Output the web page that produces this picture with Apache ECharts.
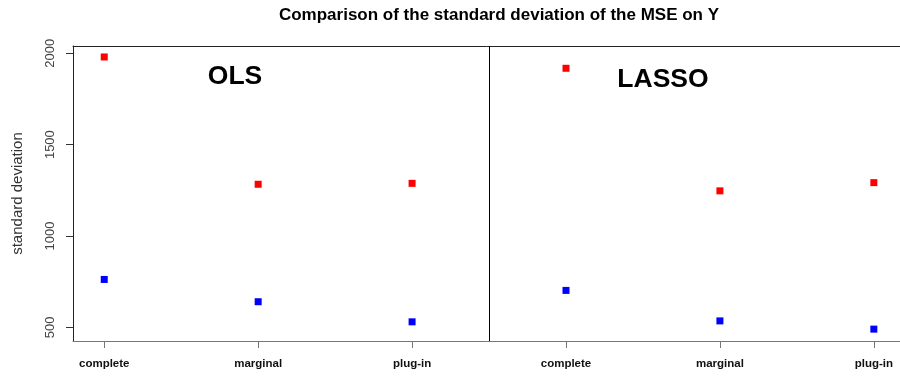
<!DOCTYPE html>
<html>
<head>
<meta charset="utf-8">
<script src="https://cdn.jsdelivr.net/npm/echarts@6/dist/echarts.min.js"></script>
<style>html,body{margin:0;padding:0;background:#fff;}#c{width:900px;height:377px;}</style>
</head>
<body>
<div id="c"></div>
<script>
const categories = ['complete','marginal','plug-in','complete','marginal','plug-in'];
const positions = [1,2,3,4,5,6];
const redValues = [1980, 1283, 1288, 1918, 1247, 1292];
const blueValues = [762, 640, 530, 702, 535, 490];
const yTicks = [500, 1000, 1500, 2000];
const panelLabels = ['OLS', 'LASSO'];

const FONT = '"Liberation Sans", Arial, sans-serif';
const chart = echarts.init(document.getElementById('c'), null, {renderer: 'canvas'});
const toPairs = vals => vals.map((v, i) => [positions[i], v]);

chart.setOption({
  animation: false,
  backgroundColor: '#fff',
  title: {
    text: 'Comparison of the standard deviation of the MSE on Y',
    left: 494, top: 2, textAlign: 'center',
    textStyle: {fontFamily: FONT, fontSize: 17, fontWeight: 'bold', color: '#000'}
  },
  grid: {left: 73, top: 46, right: 0, bottom: 36, show: false},
  xAxis: [{
    type: 'value', min: 0.797, max: 6.17,
    splitLine: {show: false},
    axisLine: {show: true, lineStyle: {color: '#777', width: 1}},
    axisTick: {show: true, length: 7, inside: false, customValues: positions, lineStyle: {color: '#777'}},
    axisLabel: {
      customValues: positions, margin: 17,
      formatter: v => categories[Math.round(v) - 1] || '',
      fontFamily: FONT, fontSize: 11.5, fontWeight: 'bold', color: '#111'
    }
  }, {
    type: 'value', position: 'top', min: 0.797, max: 6.17,
    splitLine: {show: false},
    axisLine: {show: true, onZero: false, lineStyle: {color: '#222', width: 1}},
    axisTick: {show: false}, axisLabel: {show: false}
  }],
  yAxis: {
    type: 'value', min: 425, max: 2040,
    name: 'standard deviation', nameLocation: 'middle', nameGap: 48, nameRotate: 90,
    nameTextStyle: {fontFamily: FONT, fontSize: 15, color: '#333'},
    splitLine: {show: false},
    axisLine: {show: true, lineStyle: {color: '#222'}},
    axisTick: {show: true, length: 7, inside: false, customValues: yTicks, lineStyle: {color: '#333'}},
    axisLabel: {
      customValues: yTicks, rotate: 90, margin: 16,
      formatter: v => String(v),
      fontFamily: FONT, fontSize: 13, color: '#444'
    }
  },
  series: [
    {
      type: 'scatter', data: toPairs(redValues), symbol: 'rect', symbolSize: 7,
      itemStyle: {color: '#ff0000', opacity: 1},
      markLine: {
        silent: true, symbol: 'none', label: {show: false},
        lineStyle: {color: '#000', type: 'solid', width: 1},
        data: [{xAxis: 3.5}]
      }
    },
    {
      type: 'scatter', data: toPairs(blueValues), symbol: 'rect', symbolSize: 7,
      itemStyle: {color: '#0000ff', opacity: 1}
    }
  ],
  graphic: [
    {type: 'text', x: 235, y: 77, style: {text: panelLabels[0], fontFamily: FONT, fontSize: 26.5, fontWeight: 'bold', fill: '#000', align: 'center', verticalAlign: 'middle'}},
    {type: 'text', x: 663, y: 80, style: {text: panelLabels[1], fontFamily: FONT, fontSize: 26.5, fontWeight: 'bold', fill: '#000', align: 'center', verticalAlign: 'middle'}}
  ]
});
</script>
</body>
</html>
